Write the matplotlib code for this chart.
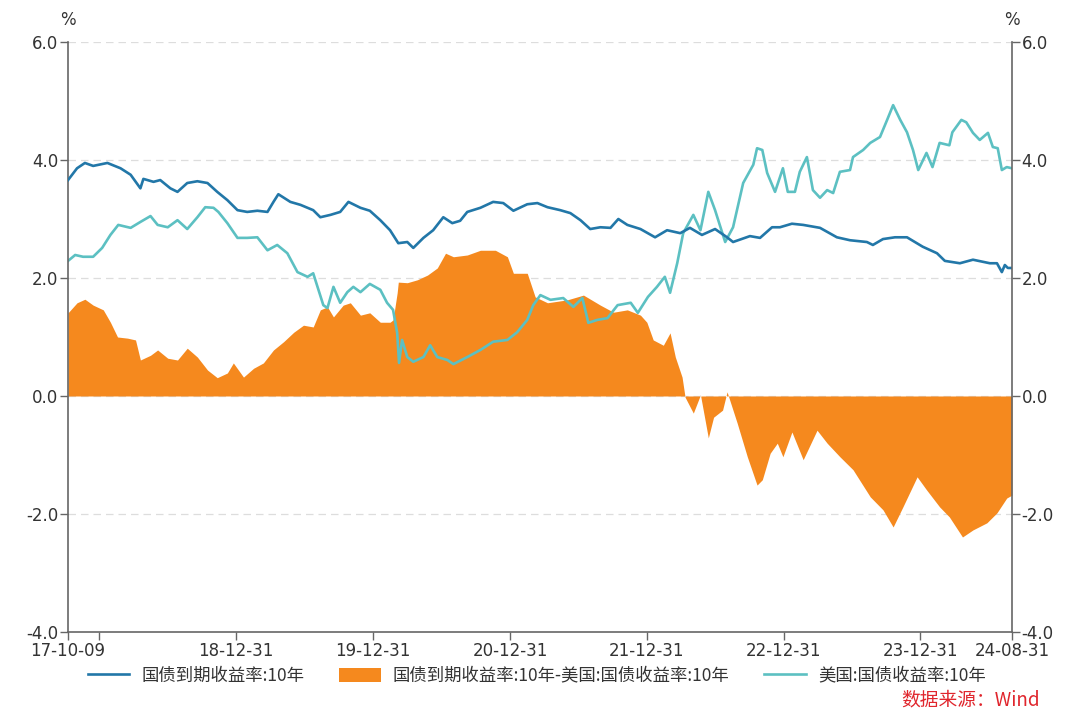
import matplotlib
matplotlib.use('Agg')
import matplotlib.pyplot as plt
import pandas as pd

plt.rcParams['font.family'] = ['DejaVu Sans', 'Noto Sans CJK SC']
plt.rcParams['axes.unicode_minus'] = False

# China 10Y government bond yield
cn_dates = ['2017-10-09', '2017-11-02', '2017-11-23', '2017-12-15', '2018-01-22', '2018-02-26',
            '2018-03-25', '2018-04-20', '2018-04-28', '2018-05-25', '2018-06-12', '2018-07-09',
            '2018-07-28', '2018-08-23', '2018-09-19', '2018-10-16', '2018-11-11', '2018-12-08',
            '2019-01-04', '2019-01-30', '2019-02-26', '2019-03-25', '2019-04-10', '2019-04-23',
            '2019-05-25', '2019-06-21', '2019-07-25', '2019-08-13', '2019-09-09', '2019-10-05',
            '2019-10-27', '2019-11-28', '2019-12-23', '2020-01-20', '2020-02-15', '2020-03-08',
            '2020-04-01', '2020-04-17', '2020-05-14', '2020-06-09', '2020-07-06', '2020-07-30',
            '2020-08-20', '2020-09-08', '2020-10-13', '2020-11-16', '2020-12-13', '2021-01-09',
            '2021-02-15', '2021-03-14', '2021-04-10', '2021-05-14', '2021-06-10', '2021-07-07',
            '2021-08-02', '2021-08-29', '2021-09-25', '2021-10-16', '2021-11-09', '2021-12-14',
            '2022-01-22', '2022-02-23', '2022-03-30', '2022-04-25', '2022-05-27', '2022-07-01',
            '2022-08-02', '2022-08-18', '2022-10-02', '2022-10-29', '2022-11-30', '2022-12-21',
            '2023-01-22', '2023-02-21', '2023-04-07', '2023-05-22', '2023-06-26', '2023-08-10',
            '2023-08-26', '2023-09-22', '2023-10-24', '2023-11-25', '2024-01-06', '2024-02-13',
            '2024-03-05', '2024-04-14', '2024-05-19', '2024-07-03', '2024-07-22', '2024-08-04',
            '2024-08-12', '2024-08-20', '2024-08-31']
cn_vals = [3.66, 3.86, 3.95, 3.90, 3.95, 3.86,
           3.75, 3.52, 3.68, 3.63, 3.66, 3.52,
           3.46, 3.61, 3.64, 3.61, 3.46, 3.32,
           3.15, 3.12, 3.14, 3.12, 3.29, 3.42,
           3.29, 3.24, 3.15, 3.03, 3.07, 3.12,
           3.29, 3.19, 3.14, 2.98, 2.81, 2.59,
           2.61, 2.51, 2.68, 2.81, 3.03, 2.93,
           2.97, 3.12, 3.19, 3.29, 3.27, 3.14,
           3.25, 3.27, 3.20, 3.15, 3.10, 2.98,
           2.83, 2.86, 2.85, 3.00, 2.90, 2.83,
           2.69, 2.81, 2.76, 2.85, 2.73, 2.83,
           2.69, 2.61, 2.71, 2.68, 2.86, 2.86,
           2.92, 2.90, 2.85, 2.69, 2.64, 2.61,
           2.56, 2.66, 2.69, 2.69, 2.53, 2.42,
           2.29, 2.25, 2.31, 2.25, 2.25, 2.10,
           2.22, 2.17, 2.17]

# US 10Y treasury yield
us_dates = ['2017-10-09', '2017-10-28', '2017-11-18', '2017-12-15', '2018-01-08', '2018-01-30',
            '2018-02-20', '2018-03-25', '2018-04-20', '2018-05-17', '2018-06-05', '2018-07-02',
            '2018-07-28', '2018-08-23', '2018-09-19', '2018-10-10', '2018-11-01', '2018-11-14',
            '2018-12-08', '2019-01-04', '2019-01-30', '2019-02-26', '2019-03-25', '2019-04-20',
            '2019-05-17', '2019-06-13', '2019-07-10', '2019-07-25', '2019-08-21', '2019-09-01',
            '2019-09-17', '2019-10-05', '2019-10-24', '2019-11-09', '2019-11-28', '2019-12-23',
            '2020-01-20', '2020-02-07', '2020-02-23', '2020-03-05', '2020-03-10', '2020-03-18',
            '2020-04-01', '2020-04-17', '2020-05-14', '2020-06-01', '2020-06-20', '2020-07-17',
            '2020-08-02', '2020-09-08', '2020-10-13', '2020-11-16', '2020-12-24', '2021-01-19',
            '2021-02-15', '2021-03-03', '2021-03-22', '2021-04-18', '2021-05-22', '2021-06-18',
            '2021-07-12', '2021-07-28', '2021-08-21', '2021-09-17', '2021-10-14', '2021-11-18',
            '2021-12-07', '2022-01-03', '2022-01-27', '2022-02-17', '2022-03-03', '2022-03-22',
            '2022-04-07', '2022-05-04', '2022-05-23', '2022-06-13', '2022-07-01', '2022-07-28',
            '2022-08-18', '2022-09-14', '2022-10-11', '2022-10-21', '2022-11-04', '2022-11-17',
            '2022-12-08', '2022-12-29', '2023-01-11', '2023-01-30', '2023-02-12', '2023-03-03',
            '2023-03-19', '2023-04-07', '2023-04-26', '2023-05-12', '2023-05-30', '2023-06-26',
            '2023-07-04', '2023-07-31', '2023-08-19', '2023-09-14', '2023-10-03', '2023-10-19',
            '2023-11-07', '2023-11-25', '2023-12-11', '2023-12-25', '2024-01-16', '2024-02-01',
            '2024-02-20', '2024-03-17', '2024-03-25', '2024-04-18', '2024-05-01', '2024-05-19',
            '2024-06-06', '2024-06-28', '2024-07-11', '2024-07-24', '2024-08-04', '2024-08-17',
            '2024-08-31']
us_vals = [2.29, 2.39, 2.36, 2.36, 2.51, 2.73,
           2.90, 2.85, 2.95, 3.05, 2.90, 2.86,
           2.98, 2.83, 3.03, 3.20, 3.19, 3.12,
           2.93, 2.68, 2.68, 2.69, 2.47, 2.56,
           2.42, 2.10, 2.02, 2.08, 1.54, 1.49,
           1.85, 1.58, 1.76, 1.85, 1.76, 1.90,
           1.80, 1.58, 1.46, 1.07, 0.56, 0.95,
           0.66, 0.58, 0.66, 0.86, 0.66, 0.61,
           0.54, 0.66, 0.78, 0.92, 0.95, 1.08,
           1.29, 1.54, 1.71, 1.63, 1.66, 1.51,
           1.66, 1.24, 1.29, 1.32, 1.54, 1.58,
           1.41, 1.68, 1.85, 2.02, 1.75, 2.25,
           2.76, 3.07, 2.81, 3.46, 3.15, 2.61,
           2.86, 3.61, 3.92, 4.20, 4.17, 3.78,
           3.46, 3.86, 3.46, 3.46, 3.80, 4.05,
           3.49, 3.36, 3.49, 3.44, 3.80, 3.83,
           4.05, 4.17, 4.29, 4.39, 4.68, 4.93,
           4.68, 4.47, 4.17, 3.83, 4.12, 3.88,
           4.29, 4.25, 4.47, 4.68, 4.64, 4.46,
           4.34, 4.46, 4.22, 4.20, 3.83, 3.88,
           3.86]

# spread: China 10Y - US 10Y
spread_dates = ['2017-10-09', '2017-11-02', '2017-11-23', '2017-12-15', '2018-01-11', '2018-01-30',
                '2018-02-18', '2018-03-17', '2018-04-07', '2018-04-20', '2018-05-17', '2018-06-05',
                '2018-07-02', '2018-07-28', '2018-08-23', '2018-09-19', '2018-10-16', '2018-11-11',
                '2018-12-08', '2018-12-24', '2019-01-20', '2019-02-16', '2019-03-14', '2019-04-10',
                '2019-05-07', '2019-06-03', '2019-06-29', '2019-07-25', '2019-08-13', '2019-09-01',
                '2019-09-17', '2019-10-13', '2019-11-01', '2019-11-28', '2019-12-23', '2020-01-20',
                '2020-02-15', '2020-02-23', '2020-03-05', '2020-03-08', '2020-04-01', '2020-04-28',
                '2020-05-25', '2020-06-20', '2020-07-12', '2020-08-02', '2020-09-08', '2020-10-13',
                '2020-11-22', '2020-12-24', '2021-01-09', '2021-02-15', '2021-03-08', '2021-04-10',
                '2021-06-02', '2021-07-15', '2021-08-29', '2021-10-03', '2021-11-09', '2021-12-14',
                '2021-12-31', '2022-01-17', '2022-02-13', '2022-03-03', '2022-03-17', '2022-04-04',
                '2022-04-12', '2022-05-04', '2022-05-23', '2022-06-13', '2022-06-27', '2022-07-21',
                '2022-08-02', '2022-08-29', '2022-09-25', '2022-10-21', '2022-11-04', '2022-11-25',
                '2022-12-14', '2022-12-29', '2023-01-22', '2023-02-21', '2023-03-30', '2023-04-26',
                '2023-05-30', '2023-07-04', '2023-08-19', '2023-09-22', '2023-10-19', '2023-11-14',
                '2023-12-22', '2024-01-16', '2024-02-20', '2024-03-17', '2024-04-21', '2024-05-19',
                '2024-06-25', '2024-07-22', '2024-08-17', '2024-08-31']
spread_vals = [1.41, 1.58, 1.64, 1.54, 1.46, 1.25,
               1.00, 0.98, 0.95, 0.61, 0.69, 0.78,
               0.64, 0.61, 0.81, 0.66, 0.44, 0.31,
               0.39, 0.56, 0.32, 0.47, 0.56, 0.78,
               0.92, 1.08, 1.20, 1.17, 1.46, 1.51,
               1.34, 1.54, 1.58, 1.37, 1.41, 1.25,
               1.25, 1.29, 1.75, 1.93, 1.92, 1.97,
               2.05, 2.17, 2.42, 2.36, 2.39, 2.47,
               2.47, 2.36, 2.08, 2.08, 1.68, 1.58,
               1.63, 1.71, 1.54, 1.42, 1.46, 1.37,
               1.25, 0.95, 0.86, 1.07, 0.66, 0.32,
               -0.02, -0.29, 0.02, -0.71, -0.36, -0.24,
               0.07, -0.46, -1.03, -1.51, -1.42, -0.97,
               -0.80, -1.03, -0.61, -1.08, -0.58, -0.80,
               -1.03, -1.25, -1.71, -1.93, -2.22, -1.88,
               -1.37, -1.59, -1.88, -2.05, -2.39, -2.27,
               -2.15, -1.98, -1.73, -1.68]

tick_dates = ['2017-10-09', '2017-12-31', '2018-12-31', '2019-12-31', '2020-12-31',
              '2021-12-31', '2022-12-31', '2023-12-31', '2024-08-31']
tick_labels = ['17-10-09', '', '18-12-31', '19-12-31', '20-12-31',
               '21-12-31', '22-12-31', '23-12-31', '24-08-31']
y_ticks = [-4.0, -2.0, 0.0, 2.0, 4.0, 6.0]

c_cn = '#2277a8'
c_us = '#5cc0c2'
c_sp = '#f5891e'
c_axis = '#666666'
c_text = '#333333'
cjk = ['Noto Sans CJK SC', 'DejaVu Sans']

cn_x = pd.to_datetime(cn_dates)
us_x = pd.to_datetime(us_dates)
sp_x = pd.to_datetime(spread_dates)

fig = plt.figure(figsize=(10.8, 7.22), dpi=100)
ax = fig.add_axes([0.063, 0.1247, 0.874, 0.8171])

for v in y_ticks[1:]:
    ax.axhline(v, color='#dddddd', lw=0.9, ls=(0, (6, 4)), zorder=0)

ax.fill_between(sp_x, 0, spread_vals, color=c_sp, lw=0, zorder=1,
                label='国债到期收益率:10年-美国:国债收益率:10年')
ax.plot(cn_x, cn_vals, color=c_cn, lw=1.9, zorder=3, label='国债到期收益率:10年')
ax.plot(us_x, us_vals, color=c_us, lw=1.9, zorder=2, label='美国:国债收益率:10年')

ax.set_xlim(pd.Timestamp('2017-10-09'), pd.Timestamp('2024-08-31'))
ax.set_ylim(-4, 6)
ax.set_yticks(y_ticks)
ax.set_yticklabels(['%.1f' % v for v in y_ticks])
ax.set_xticks(pd.to_datetime(tick_dates))
ax.set_xticklabels(tick_labels)

for s in ['top', 'right']:
    ax.spines[s].set_visible(False)
for s in ['left', 'bottom']:
    ax.spines[s].set_color(c_axis)
    ax.spines[s].set_linewidth(1.2)
ax.tick_params(axis='both', colors=c_axis, labelcolor=c_text, labelsize=12, length=6, width=1, pad=1)

ax2 = ax.twinx()
ax2.set_ylim(-4, 6)
ax2.set_yticks(y_ticks)
ax2.set_yticklabels(['%.1f' % v for v in y_ticks])
for s in ['top', 'left', 'bottom']:
    ax2.spines[s].set_visible(False)
ax2.spines['right'].set_color(c_axis)
ax2.spines['right'].set_linewidth(1.2)
ax2.tick_params(axis='y', colors=c_axis, labelcolor=c_text, labelsize=12, length=6, width=1, pad=1)

fig.text(0.063, 0.972, '%', ha='center', va='center', fontsize=12, color=c_text)
fig.text(0.937, 0.972, '%', ha='center', va='center', fontsize=12, color=c_text)

h, l = ax.get_legend_handles_labels()
order = [1, 0, 2]
fig.legend([h[i] for i in order], [l[i] for i in order], loc='center', bbox_to_anchor=(0.497, 0.064),
           ncol=3, frameon=False, handlelength=2.4, handleheight=0.9, handletextpad=0.7,
           columnspacing=2.0, labelcolor=c_text, prop={'family': cjk, 'size': 12.5})

fig.text(0.963, 0.03, '数据来源：Wind', ha='right', va='center', fontsize=13.5, color='#e0262d',
         family=cjk)

plt.savefig('out.png', dpi=100)
